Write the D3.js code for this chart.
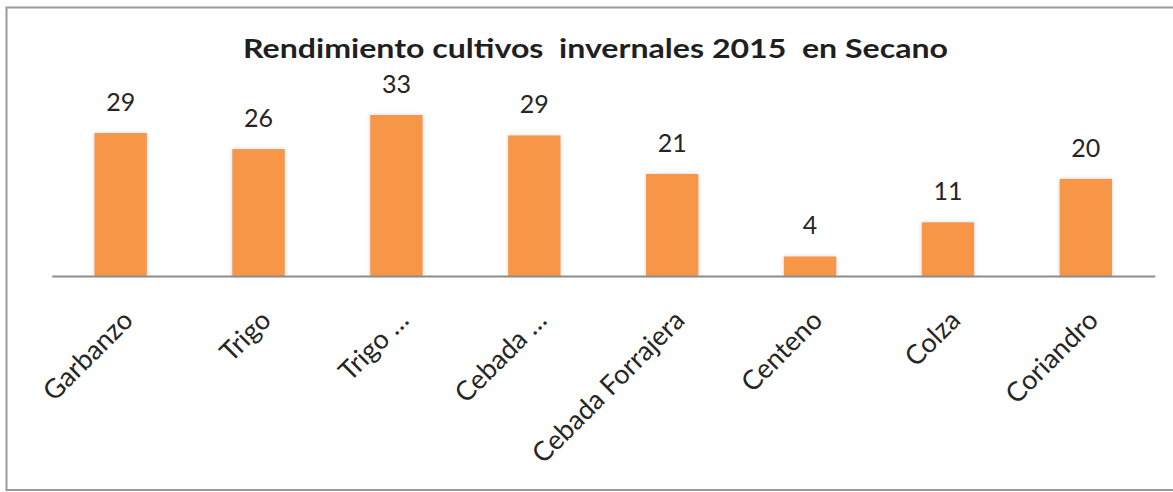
<!DOCTYPE html>
<html>
<head>
<meta charset="utf-8">
<script src="https://cdn.jsdelivr.net/npm/d3@7"></script>
<style>
  html, body { margin: 0; padding: 0; background: #fff; }
  svg { display: block; }
</style>
</head>
<body>
<svg id="chart" width="1173" height="492"></svg>
<script>
const title = "Rendimiento cultivos  invernales 2015  en Secano";
const categories = ["Garbanzo", "Trigo", "Trigo …", "Cebada …", "Cebada Forrajera", "Centeno", "Colza", "Coriandro"];
const values = [29.3, 26, 33, 28.8, 20.9, 4, 11, 19.9];

const svg = d3.select("#chart");
const W = 1173, H = 492;

// background + frame
svg.append("rect").attr("x", 0).attr("y", 0).attr("width", W).attr("height", H).attr("fill", "#fff");
svg.append("rect")
  .attr("x", 6.5).attr("y", 7.5).attr("width", 1172).attr("height", 482.5)
  .attr("fill", "none").attr("stroke", "#9a9a9a").attr("stroke-width", 2);

const defs = svg.append("defs");
const f = defs.append("filter").attr("id", "shadow").attr("x", "-30%").attr("y", "-30%").attr("width", "160%").attr("height", "160%");
f.append("feDropShadow").attr("dx", 0).attr("dy", 0).attr("stdDeviation", 2)
  .attr("flood-color", "#8fa3b8").attr("flood-opacity", 0.45);

const axisY = 276;
const x = d3.scaleBand().domain(categories).range([51.7, 1154.8]).paddingInner(0.62).paddingOuter(0.31);
const y = d3.scaleLinear().domain([0, 35]).range([axisY, axisY - 35 * 4.88]);

// title
svg.append("text")
  .attr("x", 595.5).attr("y", 58.3)
  .attr("text-anchor", "middle")
  .attr("font-family", "Lato, 'Open Sans', sans-serif")
  .attr("font-weight", "bold")
  .attr("font-size", 27)
  .attr("fill", "#1f1f1f")
  .attr("textLength", 705).attr("lengthAdjust", "spacingAndGlyphs")
  .style("white-space", "pre")
  .text(title);

const data = categories.map((c, i) => ({ c, v: values[i] }));

// bars
svg.append("g").selectAll("rect").data(data).join("rect")
  .attr("x", d => x(d.c))
  .attr("y", d => y(d.v))
  .attr("width", x.bandwidth())
  .attr("height", d => y(0) - y(d.v))
  .attr("fill", "#F79646")
  .attr("filter", "url(#shadow)");

// axis line
const xAxis = d3.axisBottom(x).tickSize(0).tickFormat("");
const ax = svg.append("g").attr("transform", `translate(0,${axisY})`).call(xAxis);
ax.select(".domain").attr("stroke", "#8c8c8c").attr("stroke-width", 2.2);

// value labels
svg.append("g").selectAll("text").data(data).join("text")
  .attr("x", d => x(d.c) + x.bandwidth() / 2)
  .attr("y", d => y(d.v) - 22)
  .attr("text-anchor", "middle")
  .attr("font-family", "Lato, 'Open Sans', sans-serif")
  .attr("font-size", 25)
  .attr("fill", "#262626")
  .text(d => d3.format(".0f")(d.v));

// category labels
svg.append("g").selectAll("text").data(data).join("text")
  .attr("transform", d => `translate(${x(d.c) + x.bandwidth() / 2 + 14},${322}) rotate(-45)`)
  .attr("text-anchor", "end")
  .attr("font-family", "Lato, 'Open Sans', sans-serif")
  .attr("font-size", 27)
  .attr("fill", "#262626")
  .text(d => d.c);
</script>
</body>
</html>
